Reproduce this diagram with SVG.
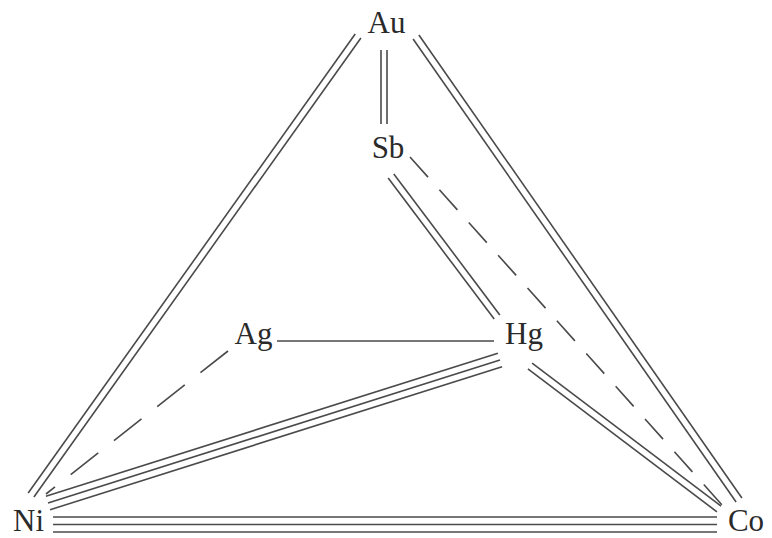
<svg xmlns="http://www.w3.org/2000/svg" width="772" height="538" viewBox="0 0 772 538">
<style>
.bg{fill:#ffffff}
.l{stroke:#4a4a4a;stroke-width:1.6;fill:none;stroke-linecap:butt}
.d{stroke:#4a4a4a;stroke-width:1.6;fill:none}
.t{font-family:"Liberation Serif","Times New Roman",serif;font-size:31px;fill:#2a2a2a;text-anchor:middle}
</style>
<rect class="bg" x="0" y="0" width="772" height="538"/>
<g id="connectors">
<g id="Au-Ni"><line class="l" x1="355.2" y1="34" x2="28.2" y2="493"/><line class="l" x1="360.9" y1="38" x2="33.9" y2="497"/></g>
<g id="Au-Co"><line class="l" x1="418.9" y1="35" x2="741.9" y2="498"/><line class="l" x1="413.1" y1="39" x2="736.1" y2="502"/></g>
<g id="Au-Sb"><line class="l" x1="381" y1="50" x2="381" y2="124"/><line class="l" x1="387" y1="50" x2="387" y2="124"/></g>
<g id="Sb-Hg"><line class="l" x1="393.8" y1="173.9" x2="499.8" y2="314.9"/><line class="l" x1="388.2" y1="178.1" x2="494.2" y2="319.1"/></g>
<g id="Sb-Co"><line class="d" x1="410" y1="157" x2="723" y2="506" stroke-dasharray="27 17"/></g>
<g id="Ag-Hg"><line class="l" x1="277" y1="341" x2="494" y2="341"/></g>
<g id="Ag-Ni"><line class="d" x1="228" y1="351" x2="46" y2="494" stroke-dasharray="35 20"/></g>
<g id="Hg-Ni"><line class="l" x1="497.9" y1="353.3" x2="45.9" y2="496.3"/><line class="l" x1="500" y1="360" x2="48" y2="503"/><line class="l" x1="502.1" y1="366.7" x2="50.1" y2="509.7"/></g>
<g id="Hg-Co"><line class="l" x1="532.1" y1="363.2" x2="721.1" y2="506.2"/><line class="l" x1="527.9" y1="368.8" x2="716.9" y2="511.8"/></g>
<g id="Ni-Co"><line class="l" x1="53" y1="517" x2="717" y2="517"/><line class="l" x1="53" y1="524.5" x2="717" y2="524.5"/><line class="l" x1="53" y1="532" x2="717" y2="532"/></g>
</g>
<g id="node-Au"><text class="t" x="386.5" y="33">Au</text></g>
<g id="node-Sb"><text class="t" x="388" y="158">Sb</text></g>
<g id="node-Ag"><text class="t" x="253.5" y="344">Ag</text></g>
<g id="node-Hg"><text class="t" x="524" y="344">Hg</text></g>
<g id="node-Ni"><text class="t" x="28.5" y="531">Ni</text></g>
<g id="node-Co"><text class="t" x="746" y="531">Co</text></g>
</svg>
